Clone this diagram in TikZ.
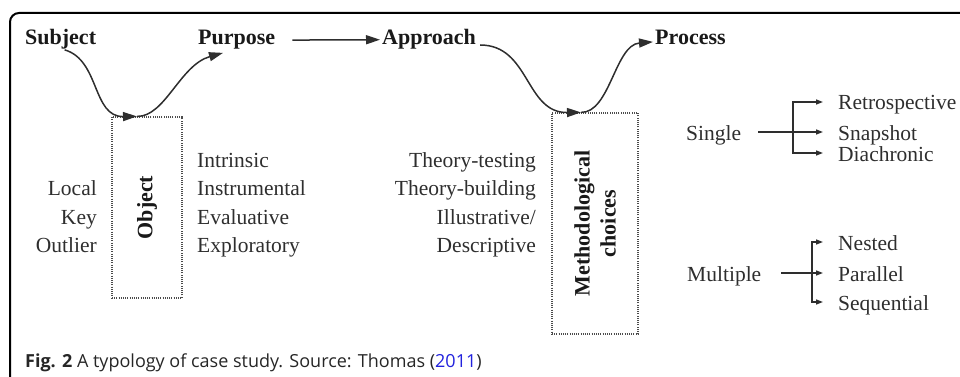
\documentclass[tikz,border=0pt]{standalone}
\usepackage{fontspec}
\setmainfont{Liberation Serif}
\newfontfamily\capfont{Open Sans}
\usetikzlibrary{arrows.meta, positioning, calc}
\definecolor{txtgray}{HTML}{2E2E2E}
\definecolor{linkblue}{HTML}{2222DD}

\begin{document}
\begin{tikzpicture}[x=1pt, y=-1pt,
  head/.style={inner sep=0pt, anchor=base west, font=\fontsize{22}{26}\selectfont\bfseries, text=black!90},
  item/.style={inner sep=0pt, font=\fontsize{21.5}{26}\selectfont, text=txtgray},
  branchlbl/.style={item, anchor=west, text height=16pt, text depth=0pt},
  flow/.style={line width=1.5pt, draw=txtgray, -{Triangle[length=14pt, width=9pt]}},
  ftip/.tip={Triangle[length=7pt, width=5pt]},
  fork/.style={line width=1.4pt, draw=txtgray, -ftip},
  dotbox/.style={draw=black!70, line width=1.2pt, dash pattern=on 1pt off 1.2pt, inner sep=0pt}
]
  \useasboundingbox (0,0) rectangle (960,377);

  % Frame
  \draw[line width=2pt, rounded corners=9pt] (10,377) |- (960,13);

  % Headers
  \node[head] (subj) at (25,45) {Subject};
  \node[head] (purp) at (198,45) {Purpose};
  \node[head] (appr) at (382,45) {Approach};
  \node[head] (proc) at (655,45) {Process};

  % Boxes
  \node[dotbox, minimum width=70pt, minimum height=181pt] (obj) at (147,207.5) {};
  \node[head, anchor=center, rotate=90] (objlbl) at (obj.center) {Object};
  \node[dotbox, minimum width=86pt, minimum height=221pt] (meth) at (595,223.5) {};
  \node[head, anchor=center, rotate=90, align=center] (methlbl) at (meth.center) {Methodological\\choices};

  \coordinate (ojoin) at ([xshift=-10pt]obj.north);
  \coordinate (mjoin) at ([xshift=-14pt]meth.north);

  % Lists
  \foreach \t [count=\i from 2] in {Local,Key,Outlier}
    \node[item, anchor=base east] (obt\i) at (97,{167+28.5*(\i-1)}) {\t};
  \foreach \t [count=\i] in {Intrinsic,Instrumental,Evaluative,Exploratory}
    \node[item, anchor=base west] (pur\i) at (197,{167+28.5*(\i-1)}) {\t};
  \foreach \t [count=\i] in {Theory-testing,Theory-building,Illustrative/,Descriptive}
    \node[item, anchor=base east] (app\i) at (536,{167+28.5*(\i-1)}) {\t};

  % Curved flows
  \draw[flow] ([xshift=4pt]subj.south) .. controls (100,60) and (92,117) .. (ojoin);
  \draw[flow] (ojoin) .. controls (165,117) and (180,65) .. ([xshift=25pt, yshift=-3pt]purp.south west);
  \draw[flow, shorten <=17pt, shorten >=2pt] (purp.east) -- (appr.west);
  \draw[flow] ([xshift=4pt]appr.base east) .. controls (530,45) and (525,113) .. (mjoin);
  \draw[flow] (mjoin) .. controls (610,113) and (615,45) .. ([xshift=-2pt, yshift=-4pt]proc.west);

  % Single
  \node[branchlbl] (single) at (686,132) {Single};
  \node[branchlbl] (retro) at (838,102) {Retrospective};
  \node[branchlbl] (snap) at (838,132) {Snapshot};
  \node[branchlbl] (diach) at (838,153) {Diachronic};
  \coordinate (sj) at (793,132);
  \draw[fork, shorten <=17pt, shorten >=15pt] (single.east) -- (snap.west);
  \draw[fork, ftip-ftip, shorten <=15pt, shorten >=15pt] (retro.west) -| (sj) |- (diach.west);

  % Multiple
  \node[branchlbl] (multi) at (687,273) {Multiple};
  \node[branchlbl] (nest) at (838,242) {Nested};
  \node[branchlbl] (para) at (838,273) {Parallel};
  \node[branchlbl] (seq) at (838,302) {Sequential};
  \coordinate (mj) at (812,273);
  \draw[fork, shorten <=20pt, shorten >=15pt] (multi.east) -- (para.west);
  \draw[fork, ftip-ftip, shorten <=15pt, shorten >=15pt] (nest.west) -| (mj) |- (seq.west);

  % Caption
  \node[inner sep=0pt, anchor=base west, font=\capfont\fontsize{18}{21}\selectfont, text=black!85] (cap) at (25,367)
    {\textbf{Fig. 2} A typology of case study. Source: Thomas (\textcolor{linkblue}{2011})};
\end{tikzpicture}
\end{document}
